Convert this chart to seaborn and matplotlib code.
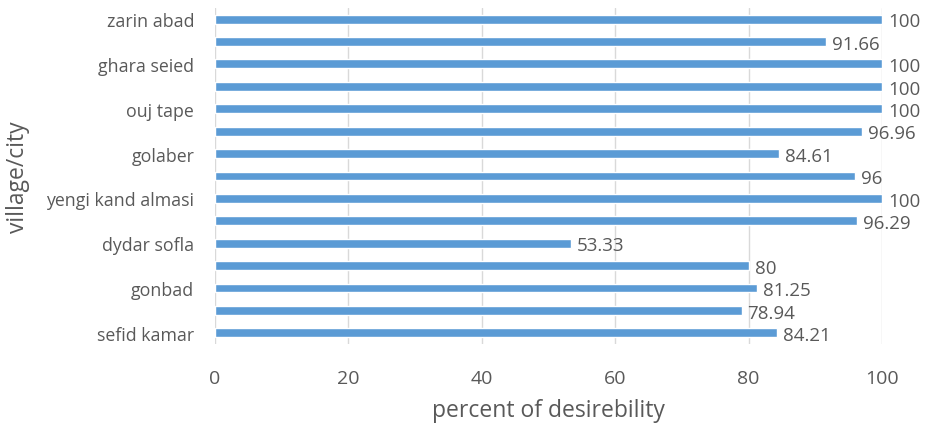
import matplotlib
matplotlib.use("Agg")
import matplotlib.pyplot as plt
import seaborn as sns
import pandas as pd

# top to bottom as shown; unlabeled rows are left blank in the picture
villages = ["zarin abad", "", "ghara seied", "", "ouj tape", "", "golaber", "",
            "yengi kand almasi", "", "dydar sofla", "", "gonbad", "", "sefid kamar"]
desirability = [100, 91.66, 100, 100, 100, 96.96, 84.61, 96,
                100, 96.29, 53.33, 80, 81.25, 78.94, 84.21]
value_labels = ["100", "91.66", "100", "100", "100", "96.96", "84.61", "96",
                "100", "96.29", "53.33", "80", "81.25", "78.94", "84.21"]
x_ticks = [0, 20, 40, 60, 80, 100]

sns.set_theme(style="white")
plt.rcParams["font.family"] = ["Open Sans", "DejaVu Sans"]
text_color = "#595959"

df = pd.DataFrame({"row": [f"r{i}" for i in range(len(villages))],
                   "value": desirability})

fig = plt.figure(figsize=(9.28, 4.27), dpi=100)
ax = fig.add_axes([0.2317, 0.192, 0.7187, 0.787])

sns.barplot(data=df, y="row", x="value", orient="h", color="#5B9BD5",
            width=0.4, saturation=1, ax=ax)

for i, (v, lab) in enumerate(zip(desirability, value_labels)):
    ax.text(v + 0.9, i + 0.1, lab, va="center", ha="left",
            fontsize=13.5, color=text_color)

ax.set_xlim(0, 100)
ax.set_ylim(len(villages) - 0.5, -0.5)
ax.set_xticks(x_ticks)
ax.set_yticks(range(len(villages)))
ax.set_yticklabels(villages)
ax.tick_params(axis="both", length=0, colors=text_color)
ax.tick_params(axis="x", labelsize=14, pad=18)
ax.tick_params(axis="y", labelsize=12.8, pad=15)
ax.xaxis.grid(True, color="#D9D9D9", linewidth=1)
ax.set_axisbelow(True)
for s in ax.spines.values():
    s.set_visible(False)

ax.set_xlabel("percent of desirebility", fontsize=16.5, color=text_color, labelpad=8)
ax.set_ylabel("village/city", fontsize=16.5, color=text_color, labelpad=12)

fig.savefig("out.png", dpi=100, facecolor="white")
